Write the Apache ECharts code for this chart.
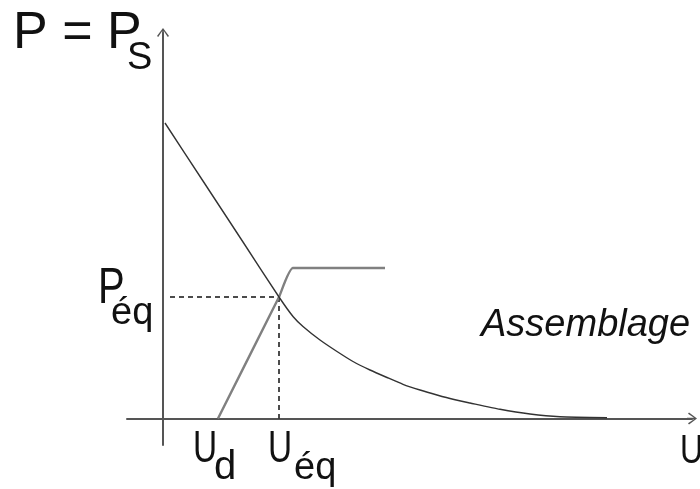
<!DOCTYPE html>
<html>
<head>
<meta charset="utf-8">
<script src="https://cdn.jsdelivr.net/npm/echarts@6/dist/echarts.min.js"></script>
<style>
  html, body { margin: 0; padding: 0; background: #fff; }
  #chart { width: 700px; height: 489px; }
</style>
</head>
<body>
<div id="chart"></div>
<script>
// Assembly demand curve P(U): straight drop, then a convex tail
const demandCurve = [
  [0.2, 29.55], [4.0, 23.75], [8.0, 17.65], [11.6, 12.15],
  [13.0, 10.2], [14.0, 9.2], [15.7, 7.85], [17.4, 6.7],
  [19.0, 5.7], [20.7, 4.85], [22.4, 4.1], [24.0, 3.42],
  [25.7, 2.85], [27.4, 2.35], [29.0, 1.92], [30.7, 1.55],
  [33.7, 0.92], [36.7, 0.45], [39.7, 0.18], [44.4, 0.08]
];
// Supply: starts at Ud, rises through equilibrium, then saturates
const supplyCurve = [[5.5, 0], [11.6, 12.15], [13.0, 15.05], [22.2, 15.05]];

// Key values
const Ud = 5.5;
const Ueq = 11.6;
const Peq = 12.15;

// Axis ranges
const xRange = [-3.6, 52.9];
const yRange = [-2.65, 38.55];

// Text labels
const yTitle = ['P = P', 'S'];
const peqLabel = ['P', 'éq'];
const udLabel = ['U', 'd'];
const ueqLabel = ['U', 'éq'];
const xTitle = 'U';
const curveName = 'Assemblage';

const FONT = '"Liberation Sans", Arial, Helvetica, sans-serif';
const INK = '#111';
const AXIS = '#555';

// Open chevron arrow head with a short stem, tip at top centre
const arrowPath = 'path://M6,0 L12,8 L10.8,9 L6.8,3 L6.8,10 L5.2,10 L5.2,3 L1.2,9 L0,8 Z';

const chart = echarts.init(document.getElementById('chart'), null, { renderer: 'canvas' });

const axisCommon = {
  type: 'value',
  axisTick: { show: false },
  axisLabel: { show: false },
  splitLine: { show: false },
  axisLine: {
    show: true,
    onZero: true,
    symbol: ['none', arrowPath],
    symbolSize: [12, 10],
    lineStyle: { color: AXIS, width: 2 }
  }
};

chart.setOption({
  animation: false,
  backgroundColor: '#fff',
  grid: { left: 127, right: 8, top: 33, bottom: 44, containLabel: false },
  xAxis: Object.assign({}, axisCommon, { min: xRange[0], max: xRange[1] }),
  yAxis: Object.assign({}, axisCommon, { min: yRange[0], max: yRange[1] }),
  series: [
    {
      name: curveName,
      type: 'line',
      data: demandCurve,
      smooth: 0.2,
      symbol: 'none',
      lineStyle: { color: '#333', width: 1.4 },
      z: 3
    },
    {
      name: 'supply',
      type: 'line',
      data: supplyCurve,
      smooth: 0.15,
      symbol: 'none',
      lineStyle: { color: '#808080', width: 2.4 },
      z: 2
    },
    {
      name: 'eqH',
      type: 'line',
      data: [[0.7, Peq], [Ueq, Peq]],
      symbol: 'none',
      lineStyle: { color: '#111', width: 1.5, type: [5, 4] },
      z: 1
    },
    {
      name: 'eqV',
      type: 'line',
      data: [[Ueq, Peq], [Ueq, 0]],
      symbol: 'none',
      lineStyle: { color: '#111', width: 1.5, type: [5, 4] },
      z: 1
    }
  ]
});

// Text placed on a baseline: canvas "middle" sits ~0.3465em above it.
// sx narrows a glyph horizontally around its left edge.
function txt(str, x, baseline, size, opts) {
  opts = opts || {};
  return {
    type: 'text',
    silent: true,
    x: x,
    y: baseline - 0.3465 * size,
    scaleX: opts.sx || 1,
    style: {
      text: str,
      x: 0,
      y: 0,
      fill: INK,
      font: (opts.italic ? 'italic ' : '') + size + 'px ' + FONT,
      textAlign: 'left',
      textVerticalAlign: 'middle'
    }
  };
}

const px = (u, p) => chart.convertToPixel({ gridIndex: 0 }, [u, p]);
const origin = px(0, 0);
const pUd = px(Ud, 0);
const pEq = px(Ueq, Peq);
const pEnd = px(xRange[1], 0);

chart.setOption({
  graphic: [
    txt(yTitle[0], origin[0] - 150, 52, 52),
    txt(yTitle[1], origin[0] - 36, 72, 38),
    txt(peqLabel[0], origin[0] - 65, pEq[1] + 10, 50, { sx: 0.8 }),
    txt(peqLabel[1], origin[0] - 52, pEq[1] + 30, 38),
    txt(udLabel[0], pUd[0] - 25, 465, 44, { sx: 0.76 }),
    txt(udLabel[1], pUd[0] - 4, 482, 40),
    txt(ueqLabel[0], pEq[0] - 11, 465, 44, { sx: 0.76 }),
    txt(ueqLabel[1], pEq[0] + 15, 482, 38),
    txt(curveName, 481, 339, 38, { italic: true }),
    txt(xTitle, pEnd[0] - 12, 466, 40, { sx: 0.8 })
  ]
});
</script>
</body>
</html>
